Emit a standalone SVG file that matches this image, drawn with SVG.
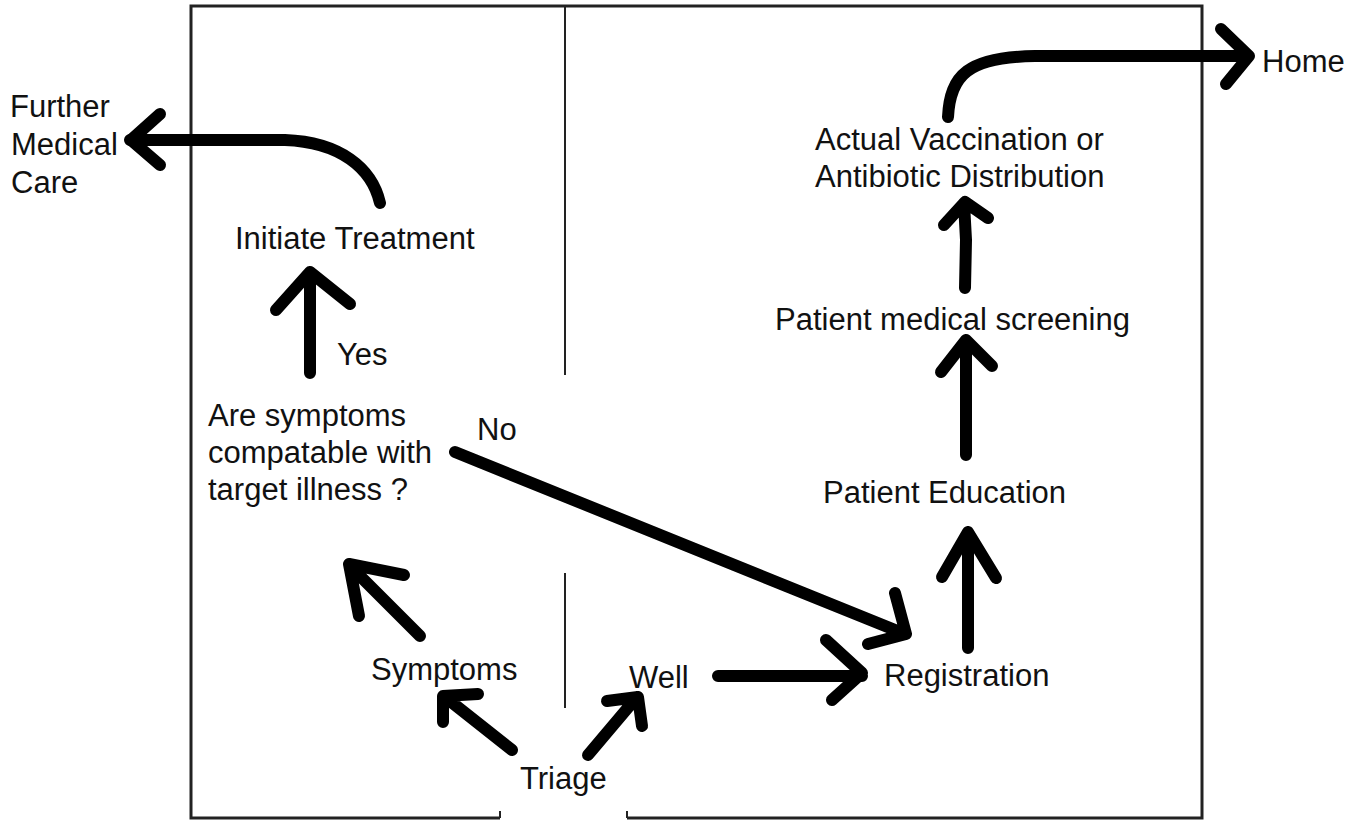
<svg xmlns="http://www.w3.org/2000/svg" width="1349" height="820" viewBox="0 0 1349 820">
<style>
.t{font-family:"Liberation Sans",Arial,sans-serif;font-size:31px;fill:#111}
.a{fill:none;stroke:#000;stroke-width:12;stroke-linecap:round;stroke-linejoin:round}
.b{fill:none;stroke:#222;stroke-width:3}
.d{fill:none;stroke:#222;stroke-width:2}
</style>
<rect width="1349" height="820" fill="#fff"/>
<g id="frame">
<path class="b" d="M500,818 L191,818 L191,6 L1202,6 L1202,818 L627,818"/>
<path class="d" d="M500,818 L500,811 M627,818 L627,811"/>
<path class="d" d="M565,6 L565,375 M565,573 L565,708"/>
</g>
<g id="connectors">
<path class="a" d="M380,203 C372,168 340,142 285,140 L130,140"/>
<path class="a" d="M160,114 L131,140 L160,165"/>
<path class="a" d="M310,373 L310,272 M276,310 L310,272 L350,304"/>
<path class="a" d="M455,452 L905,634 M895,593 L906,634 L868,644"/>
<path class="a" d="M718,676 L862,676 M826,640 L862,673 L832,700"/>
<path class="a" d="M420,636 L350,566 M404,575 L349,564 L359,616"/>
<path class="a" d="M512,750 L445,697 M478,694 L443,696 L443,722"/>
<path class="a" d="M588,755 L637,697 M607,701 L638,697 L642,726"/>
<path class="a" d="M968,648 L968,532 M942,577 L968,532 L996,578"/>
<path class="a" d="M966,455 L966,340 M941,372 L966,340 L992,366"/>
<path class="a" d="M965,288 L966,240 L964,203 M944,225 L965,202 L988,218"/>
<path class="a" d="M948,117 C950,75 968,57 1035,56 L1248,56 M1221,29 L1249,56 L1226,84"/>
</g>
<g id="node-further"><text class="t" x="10" y="117">Further</text><text class="t" x="11" y="155">Medical</text><text class="t" x="11" y="193">Care</text></g>
<g id="node-initiate"><text class="t" x="235" y="249">Initiate Treatment</text></g>
<g id="label-yes"><text class="t" x="337" y="365">Yes</text></g>
<g id="node-question"><text class="t" x="208" y="426">Are symptoms</text><text class="t" x="208" y="463">compatable with</text><text class="t" x="208" y="500">target illness ?</text></g>
<g id="label-no"><text class="t" x="477" y="440">No</text></g>
<g id="node-symptoms"><text class="t" x="371" y="680">Symptoms</text></g>
<g id="node-well"><text class="t" x="629" y="688">Well</text></g>
<g id="node-triage"><text class="t" x="520" y="789">Triage</text></g>
<g id="node-registration"><text class="t" x="884" y="686">Registration</text></g>
<g id="node-education"><text class="t" x="823" y="503">Patient Education</text></g>
<g id="node-screening"><text class="t" x="775" y="330">Patient medical screening</text></g>
<g id="node-vaccination"><text class="t" x="815" y="150">Actual Vaccination or</text><text class="t" x="815" y="187">Antibiotic Distribution</text></g>
<g id="node-home"><text class="t" x="1262" y="72">Home</text></g>
</svg>
